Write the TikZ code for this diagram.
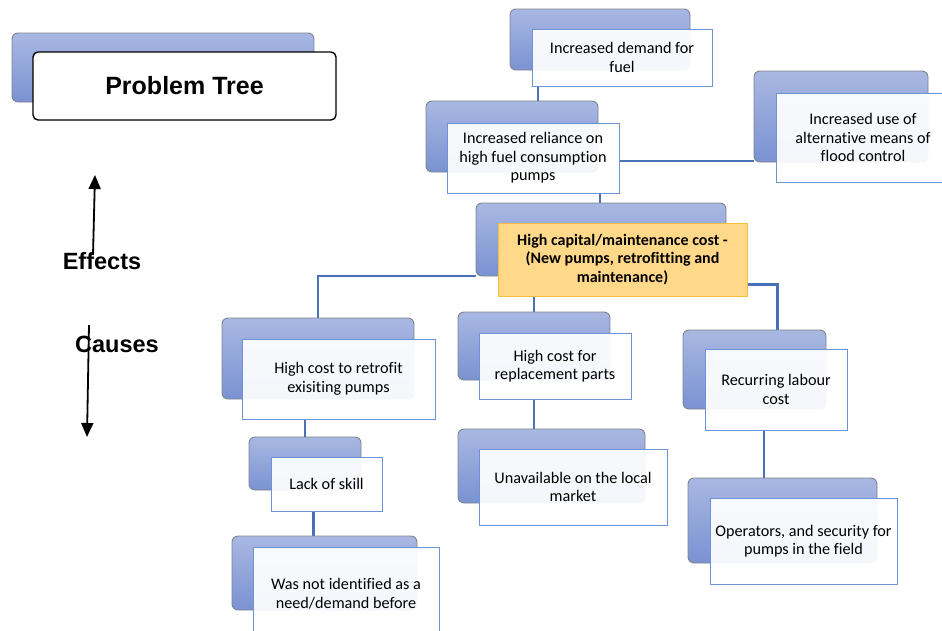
\documentclass[tikz,border=0pt]{standalone}
\usepackage{fontspec}
\setmainfont{Carlito}[Ligatures=CommonOff]
\newfontfamily\headfont{Liberation Sans}
\usetikzlibrary{arrows.meta,backgrounds}

\definecolor{backtop}{HTML}{A9B8E2}
\definecolor{backbot}{HTML}{7A92D2}
\definecolor{backedge}{HTML}{80838C}
\definecolor{frontedge}{HTML}{6C92DA}
\definecolor{linkblue}{HTML}{4A70B8}
\definecolor{corefill}{HTML}{FFD88A}
\definecolor{coreedge}{HTML}{F2BC3C}

\tikzset{
  backbox/.style={draw=backedge, line width=0.9pt, rounded corners=6pt,
    top color=backtop, bottom color=backbot, anchor=north west,
    inner sep=0pt, outer sep=0pt},
  frontbox/.style={draw=frontedge, line width=1pt, fill=white,
    fill opacity=0.93, text opacity=1, anchor=north west, align=center,
    inner sep=0pt, outer sep=0pt, font=\fontsize{16.2}{18.5}\selectfont},
  corebox/.style={frontbox, draw=coreedge, fill=corefill, fill opacity=1,
    font=\bfseries\fontsize{16}{18.5}\selectfont},
  titlebox/.style={draw=black, line width=1.4pt, rounded corners=5pt,
    fill=white, anchor=north west, inner sep=0pt, outer sep=0pt,
    font=\headfont\bfseries\fontsize{25}{28}\selectfont},
  sidelabel/.style={font=\headfont\bfseries\fontsize{23.5}{26}\selectfont,
    inner sep=0pt},
  link/.style={draw=linkblue, line width=2.2pt},
  flow/.style={draw=black, line width=1.8pt,
    -{Triangle[width=12pt,length=14pt]}},
}

\begin{document}
\begin{tikzpicture}[x=1pt,y=-1pt]
\useasboundingbox (0,0) rectangle (942,630);
\clip (0,0) rectangle (942,630);

% title card
\node[backbox, minimum width=302pt, minimum height=69pt] (titleB) at (12,33) {};
\node[titlebox, minimum width=303pt, minimum height=68pt] (titleF) at (33,52) {Problem Tree};

% direction markers
\coordinate (effTail) at (93,255);
\coordinate (effTip) at (95,175);
\coordinate (cauTail) at (89,325);
\coordinate (cauTip) at (87,437);
\draw[flow] (effTail) -- (effTip);
\draw[flow] (cauTail) -- (cauTip);
\node[sidelabel] (effects) at (102,261) {Effects};
\node[sidelabel] (causes) at (117,344) {Causes};

% effects
\node[backbox, minimum width=180pt, minimum height=61pt] (topB) at (510,9) {};
\node[frontbox, minimum width=180pt, minimum height=57pt] (topF) at (532,29) {Increased demand for\\fuel};

\node[backbox, minimum width=172pt, minimum height=71pt] (relB) at (426,101) {};
\node[frontbox, minimum width=172pt, minimum height=70pt] (relF) at (447,123) {Increased reliance on\\high fuel consumption\\pumps};

\node[backbox, minimum width=174pt, minimum height=91pt] (altB) at (754,71) {};
\node[frontbox, minimum width=174pt, minimum height=89pt] (altF) at (776,93) {Increased use of\\alternative means of\\flood control};

% core problem
\node[backbox, minimum width=250pt, minimum height=73pt] (cenB) at (476,203) {};
\node[corebox, minimum width=249pt, minimum height=73pt] (cenF) at (498,223) {High capital/maintenance cost -\\(New pumps, retrofitting and\\maintenance)};

% causes
\node[backbox, minimum width=192pt, minimum height=81pt] (retB) at (222,318) {};
\node[frontbox, minimum width=193pt, minimum height=80pt] (retF) at (242,339) {High cost to retrofit\\exisiting pumps};

\node[backbox, minimum width=112pt, minimum height=53pt] (sklB) at (249,437) {};
\node[frontbox, minimum width=111pt, minimum height=54pt] (sklF) at (271,457) {Lack of skill};

\node[backbox, minimum width=185pt, minimum height=74pt] (idtB) at (232,536) {};
\node[frontbox, minimum width=186pt, minimum height=93pt] (idtF) at (253,547) {Was not identified as a\\need/demand before};

\node[backbox, minimum width=152pt, minimum height=68pt] (prtB) at (458,312) {};
\node[frontbox, minimum width=152pt, minimum height=66pt] (prtF) at (479,333) {High cost for\\replacement parts};

\node[backbox, minimum width=187pt, minimum height=74pt] (unvB) at (458,429) {};
\node[frontbox, minimum width=188pt, minimum height=76pt] (unvF) at (479,449) {Unavailable on the local\\market};

\node[backbox, minimum width=143pt, minimum height=79pt] (labB) at (683,330) {};
\node[frontbox, minimum width=142pt, minimum height=81pt] (labF) at (705,349) {Recurring labour\\cost};

\node[backbox, minimum width=189pt, minimum height=85pt] (opsB) at (688,478) {};
\node[frontbox, minimum width=187pt, minimum height=86pt] (opsF) at (710,498) {Operators, and security for\\pumps in the field};

% connectors
\begin{pgfonlayer}{background}
\draw[link] ([xshift=6pt]topF.south west) -- ([xshift=6pt]topF.south west |- relB.north);
\draw[link] ([yshift=-3pt]relF.east) -- ([yshift=-3pt]relF.east -| altB.west);
\draw[link] ([xshift=67pt]relF.south) -- ([xshift=67pt]relF.south |- cenB.north);
\draw[link] (cenB.south west) -| (retB.north);
\draw[link] (prtB.north |- cenF.south) -- (prtB.north);
\draw[link] ([yshift=-25pt]cenF.east) -| ([xshift=23pt]labB.north);
\draw[link] (sklB.north |- retF.south) -- (sklB.north);
\draw[link] ([xshift=-13pt]sklF.south) -- ([xshift=-13pt]sklF.south |- idtB.north);
\draw[link] (prtB.north |- prtF.south) -- (prtB.north |- unvB.north);
\draw[link] ([xshift=-12pt]labF.south) -- ([xshift=-12pt]labF.south |- opsB.north);
\end{pgfonlayer}
\end{tikzpicture}
\end{document}
